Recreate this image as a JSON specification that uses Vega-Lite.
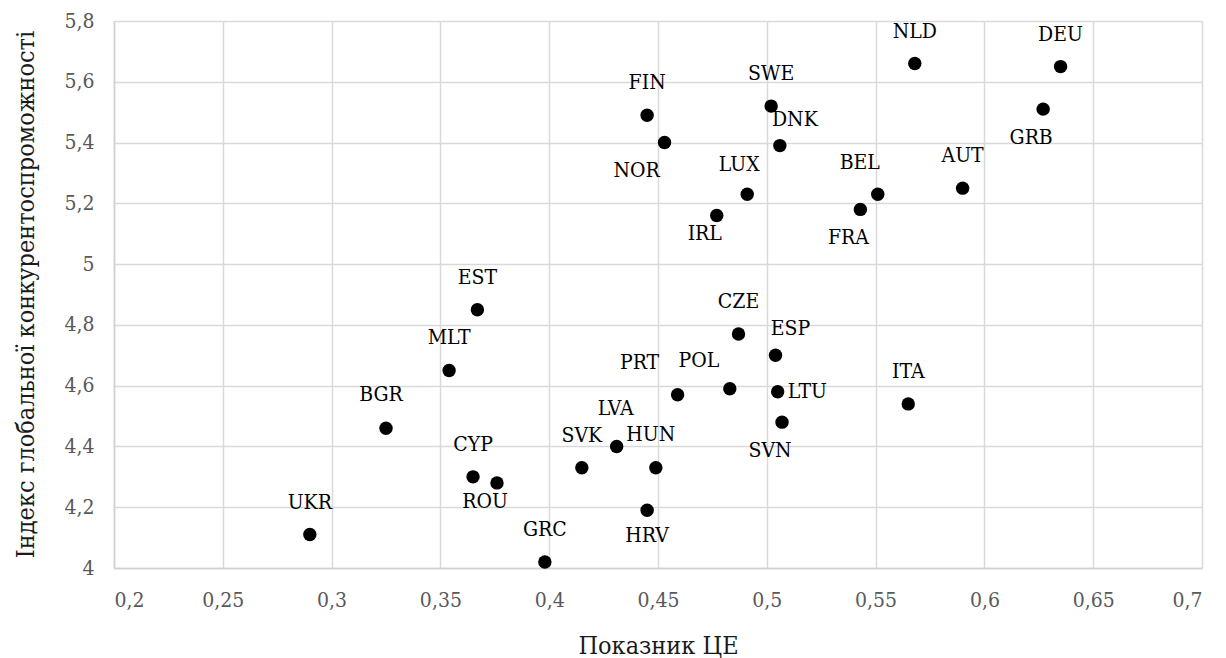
{
  "$schema": "https://vega.github.io/schema/vega-lite/v6.json",
  "width": 1088,
  "height": 547,
  "autosize": {"type": "none"},
  "padding": {"left": 114, "top": 21, "right": 24, "bottom": 90},
  "background": "white",
  "config": {
    "view": {"stroke": null},
    "font": "DejaVu Serif Condensed",
    "axis": {
      "gridColor": "#d9d9d9",
      "gridWidth": 1.5,
      "domainColor": "#d0d0d0",
      "domainWidth": 1.5,
      "ticks": false,
      "labelFont": "DejaVu Serif Condensed",
      "labelFontSize": 21,
      "labelColor": "#595959",
      "titleFont": "DejaVu Serif Condensed",
      "titleFontSize": 25,
      "titleFontWeight": "normal",
      "titleColor": "#1a1a1a"
    }
  },
  "data": {
    "values": [
      {"c": "UKR", "ce": 0.290, "gci": 4.11},
      {"c": "BGR", "ce": 0.325, "gci": 4.46},
      {"c": "EST", "ce": 0.367, "gci": 4.85},
      {"c": "MLT", "ce": 0.354, "gci": 4.65},
      {"c": "CYP", "ce": 0.365, "gci": 4.30},
      {"c": "ROU", "ce": 0.376, "gci": 4.28},
      {"c": "GRC", "ce": 0.398, "gci": 4.02},
      {"c": "SVK", "ce": 0.415, "gci": 4.33},
      {"c": "LVA", "ce": 0.431, "gci": 4.40},
      {"c": "HUN", "ce": 0.449, "gci": 4.33},
      {"c": "HRV", "ce": 0.445, "gci": 4.19},
      {"c": "PRT", "ce": 0.459, "gci": 4.57},
      {"c": "POL", "ce": 0.483, "gci": 4.59},
      {"c": "CZE", "ce": 0.487, "gci": 4.77},
      {"c": "ESP", "ce": 0.504, "gci": 4.70},
      {"c": "LTU", "ce": 0.505, "gci": 4.58},
      {"c": "SVN", "ce": 0.507, "gci": 4.48},
      {"c": "ITA", "ce": 0.565, "gci": 4.54},
      {"c": "FIN", "ce": 0.445, "gci": 5.49},
      {"c": "NOR", "ce": 0.453, "gci": 5.40},
      {"c": "SWE", "ce": 0.502, "gci": 5.52},
      {"c": "DNK", "ce": 0.506, "gci": 5.39},
      {"c": "LUX", "ce": 0.491, "gci": 5.23},
      {"c": "IRL", "ce": 0.477, "gci": 5.16},
      {"c": "FRA", "ce": 0.543, "gci": 5.18},
      {"c": "BEL", "ce": 0.551, "gci": 5.23},
      {"c": "AUT", "ce": 0.590, "gci": 5.25},
      {"c": "NLD", "ce": 0.568, "gci": 5.66},
      {"c": "DEU", "ce": 0.635, "gci": 5.65},
      {"c": "GRB", "ce": 0.627, "gci": 5.51}
    ]
  },
  "encoding": {
    "x": {
      "field": "ce",
      "type": "quantitative",
      "scale": {"domain": [0.2, 0.7], "nice": false, "zero": false},
      "axis": {
        "title": "Показник ЦЕ",
        "values": [0.2, 0.25, 0.3, 0.35, 0.4, 0.45, 0.5, 0.55, 0.6, 0.65, 0.7],
        "labelExpr": "replace(format(datum.value, '~g'), '.', ',')",
        "labelPadding": 21,
        "titleX": 544,
        "titleY": 85,
        "titleBaseline": "alphabetic",
        "titleAlign": "center"
      }
    },
    "y": {
      "field": "gci",
      "type": "quantitative",
      "scale": {"domain": [4, 5.8], "nice": false, "zero": false},
      "axis": {
        "title": "Індекс глобальної конкурентоспроможності",
        "values": [4, 4.2, 4.4, 4.6, 4.8, 5, 5.2, 5.4, 5.6, 5.8],
        "labelExpr": "replace(format(datum.value, '~g'), '.', ',')",
        "labelPadding": 20,
        "titleX": -81,
        "titleY": 273,
        "titleAngle": -90,
        "titleBaseline": "alphabetic",
        "titleAlign": "center"
      }
    }
  },
  "layer": [
    {
      "mark": {"type": "rule", "color": "#d9d9d9", "strokeWidth": 1.5},
      "data": {"values": [{"v": 0}]},
      "encoding": {"x": {"datum": 0.2, "type": "quantitative"}, "y": {"datum": 4, "type": "quantitative"}, "y2": {"datum": 5.8}}
    },
    {
      "mark": {"type": "point", "filled": true, "shape": "circle", "size": 180, "color": "black", "opacity": 1}
    },
    {
      "transform": [{"filter": {"field": "c", "oneOf": ["UKR", "FIN", "SWE", "EST", "CZE", "MLT", "SVK", "CYP", "GRC", "NLD", "DEU", "AUT", "ITA"]}}],
      "mark": {"type": "text", "font": "DejaVu Serif Condensed", "fontSize": 21, "color": "black", "align": "center", "baseline": "middle", "dx": 0, "dy": -32},
      "encoding": {"text": {"field": "c"}}
    },
    {
      "transform": [{"filter": {"field": "c", "oneOf": ["BGR", "HUN"]}}],
      "mark": {"type": "text", "font": "DejaVu Serif Condensed", "fontSize": 21, "color": "black", "align": "center", "baseline": "middle", "dx": -5, "dy": -33},
      "encoding": {"text": {"field": "c"}}
    },
    {
      "transform": [{"filter": {"field": "c", "oneOf": ["LVA"]}}],
      "mark": {"type": "text", "font": "DejaVu Serif Condensed", "fontSize": 21, "color": "black", "align": "center", "baseline": "middle", "dx": -1, "dy": -37},
      "encoding": {"text": {"field": "c"}}
    },
    {
      "transform": [{"filter": {"field": "c", "oneOf": ["PRT"]}}],
      "mark": {"type": "text", "font": "DejaVu Serif Condensed", "fontSize": 21, "color": "black", "align": "center", "baseline": "middle", "dx": -38, "dy": -32},
      "encoding": {"text": {"field": "c"}}
    },
    {
      "transform": [{"filter": {"field": "c", "oneOf": ["POL"]}}],
      "mark": {"type": "text", "font": "DejaVu Serif Condensed", "fontSize": 21, "color": "black", "align": "center", "baseline": "middle", "dx": -31, "dy": -28},
      "encoding": {"text": {"field": "c"}}
    },
    {
      "transform": [{"filter": {"field": "c", "oneOf": ["BEL"]}}],
      "mark": {"type": "text", "font": "DejaVu Serif Condensed", "fontSize": 21, "color": "black", "align": "center", "baseline": "middle", "dx": -18, "dy": -31},
      "encoding": {"text": {"field": "c"}}
    },
    {
      "transform": [{"filter": {"field": "c", "oneOf": ["LUX"]}}],
      "mark": {"type": "text", "font": "DejaVu Serif Condensed", "fontSize": 21, "color": "black", "align": "center", "baseline": "middle", "dx": -8, "dy": -29},
      "encoding": {"text": {"field": "c"}}
    },
    {
      "transform": [{"filter": {"field": "c", "oneOf": ["DNK", "ESP"]}}],
      "mark": {"type": "text", "font": "DejaVu Serif Condensed", "fontSize": 21, "color": "black", "align": "center", "baseline": "middle", "dx": 15, "dy": -26},
      "encoding": {"text": {"field": "c"}}
    },
    {
      "transform": [{"filter": {"field": "c", "oneOf": ["LTU"]}}],
      "mark": {"type": "text", "font": "DejaVu Serif Condensed", "fontSize": 21, "color": "black", "align": "left", "baseline": "middle", "dx": 10, "dy": 0},
      "encoding": {"text": {"field": "c"}}
    },
    {
      "transform": [{"filter": {"field": "c", "oneOf": ["NOR"]}}],
      "mark": {"type": "text", "font": "DejaVu Serif Condensed", "fontSize": 21, "color": "black", "align": "center", "baseline": "middle", "dx": -28, "dy": 28},
      "encoding": {"text": {"field": "c"}}
    },
    {
      "transform": [{"filter": {"field": "c", "oneOf": ["SVN", "GRB", "FRA"]}}],
      "mark": {"type": "text", "font": "DejaVu Serif Condensed", "fontSize": 21, "color": "black", "align": "center", "baseline": "middle", "dx": -12, "dy": 29},
      "encoding": {"text": {"field": "c"}}
    },
    {
      "transform": [{"filter": {"field": "c", "oneOf": ["IRL", "ROU"]}}],
      "mark": {"type": "text", "font": "DejaVu Serif Condensed", "fontSize": 21, "color": "black", "align": "center", "baseline": "middle", "dx": -12, "dy": 19},
      "encoding": {"text": {"field": "c"}}
    },
    {
      "transform": [{"filter": {"field": "c", "oneOf": ["HRV"]}}],
      "mark": {"type": "text", "font": "DejaVu Serif Condensed", "fontSize": 21, "color": "black", "align": "center", "baseline": "middle", "dx": 0, "dy": 26},
      "encoding": {"text": {"field": "c"}}
    }
  ]
}
